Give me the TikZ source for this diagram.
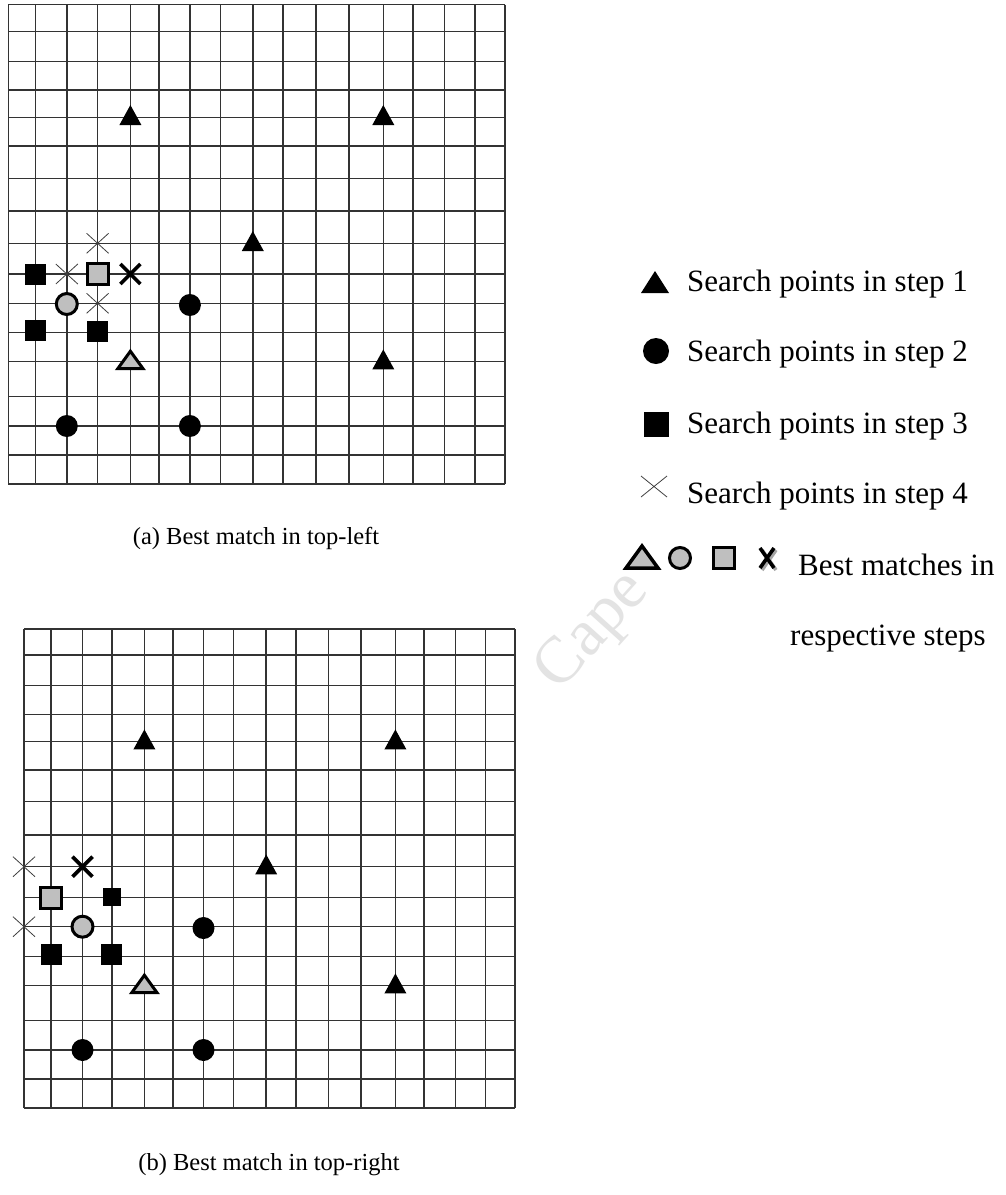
\documentclass[tikz,border=0pt]{standalone}
\usepackage{fontspec}
\setmainfont{Liberation Serif}
\begin{document}
\begin{tikzpicture}[x=1pt,y=-1pt,
  gl/.style={line width=1.5pt, black!80},
  best/.style={fill=black!25, draw=black, line width=3pt, line join=miter},
  thinx/.style={line width=0.8pt, black!75},
  boldx/.style={line width=3.6pt, black},
  legtext/.style={anchor=base west, inner sep=0pt, font=\fontsize{31}{36}\selectfont},
  captext/.style={anchor=center, inner sep=0pt, font=\fontsize{24.5}{28}\selectfont},
  wmark/.style={text=black!11, font=\fontsize{66}{70}\selectfont, inner sep=0pt}
]
\newcommand\symTri[2]{\fill[shift={(#1,#2)}] (-11,7.7) -- (11,7.7) -- (0,-12.3) -- cycle;}
\newcommand\symCirc[2]{\fill (#1,#2) circle[radius=11pt];}
\newcommand\symSq[2]{\fill[shift={(#1,#2)}] (-10.5,-10.5) rectangle (10.5,10.5);}
\newcommand\symX[2]{\draw[thinx,shift={(#1,#2)}] (-11,-10) -- (11,10) (-11,10) -- (11,-10);}
\newcommand\bestTri[2]{\filldraw[best,shift={(#1,#2)}] (-12.5,6.8) -- (12.5,6.8) -- (0,-10.5) -- cycle;}
\newcommand\bestCirc[2]{\filldraw[best] (#1,#2) circle[radius=10.5pt];}
\newcommand\bestSq[2]{\filldraw[best,shift={(#1,#2)}] (-10.5,-10.5) rectangle (10.5,10.5);}
\newcommand\bestX[2]{\draw[boldx,shift={(#1,#2)}] (-10,-10) -- (10,10) (-10,10) -- (10,-10);}
% canvas
\fill[white] (0,0) rectangle (1006,1195);
\useasboundingbox (0,0) rectangle (1006,1195);
% watermark
\node[wmark, rotate=48] (wm) at (594,632) {Cape};
% grid (a)
\fill[white] (8.3,4.7) rectangle (505,484);
\foreach \x in {8.3,35.4,66.8,97.6,130.4,158.8,189.9,220.7,252.8,283.2,316.1,348.8,383.3,413.1,444.5,474.9,505}
  \draw[gl] (\x,4.7) -- (\x,484);
\foreach \y in {4.7,31.7,61.7,90,117.3,146,178.3,211,243.3,274,303.3,332.3,361.7,396.7,426,455,484}
  \draw[gl] (8.3,\y) -- (505,\y);
% grid (b)
\fill[white] (24,629) rectangle (515,1108);
\foreach \x in {24,51.1,82.5,111.9,144.4,172.8,203.5,233.7,266.2,295.9,328.4,360.9,395.4,424.1,455.6,485.7,515}
  \draw[gl] (\x,629) -- (\x,1108);
\foreach \y in {629,655,685.7,714.3,741.7,770,801.7,835,866.7,897.3,926.7,956.7,985.7,1020.7,1050,1079,1108}
  \draw[gl] (24,\y) -- (515,\y);
% symbols (a)
\symTri{130.4}{117.3}\symTri{383.3}{117.3}\symTri{252.8}{243.3}\symTri{383.3}{361.7}
\bestTri{130.4}{361.7}
\symCirc{189.9}{305}\symCirc{66.8}{426}\symCirc{189.9}{426}
\bestCirc{66.8}{304}
\symSq{35.4}{274}\symSq{35.4}{330.3}\symSq{97.6}{331.3}
\bestSq{97.6}{274}
\symX{97.6}{243.3}\symX{66.8}{274}\symX{97.6}{303.3}
\bestX{130.4}{274}
% symbols (b)
\symTri{144.4}{741.7}\symTri{395.4}{741.7}\symTri{266.2}{866.7}\symTri{395.4}{985.7}
\bestTri{144.4}{985.7}
\symCirc{203.5}{928}\symCirc{82.5}{1050}\symCirc{203.5}{1050}
\bestCirc{82.5}{926.7}
\fill (103,888.3) rectangle (120.8,906.3);
\symSq{51.1}{954.7}\symSq{111.9}{954.7}
\bestSq{51.1}{898.3}
\symX{24}{866.7}\symX{24}{926.7}
\bestX{82.5}{866.7}
% legend
\fill (641,293) -- (669,293) -- (655,271) -- cycle;
\node[legtext] (l1) at (687,291) {Search points in step 1};
\fill (656,351) circle[radius=13pt];
\node[legtext] (l2) at (687,361) {Search points in step 2};
\fill (643.5,411.5) rectangle (668.5,436.5);
\node[legtext] (l3) at (687,433) {Search points in step 3};
\draw[thinx] (641,476) -- (667,497) (641,497) -- (667,476);
\node[legtext] (l4) at (687,503) {Search points in step 4};
\filldraw[best, line width=3.5pt] (626,568) -- (658,568) -- (642,546) -- cycle;
\filldraw[best] (680,558) circle[radius=10.5pt];
\filldraw[best] (713.5,547.5) rectangle (734.5,568.5);
\draw[boldx, black!35, shift={(769,560)}] (-7,-10) -- (7,10) (-7,10) -- (7,-10);
\draw[boldx, shift={(767,558)}] (-7,-10) -- (7,10) (-7,10) -- (7,-10);
\node[legtext] (l5) at (798,575) {Best matches in};
\node[legtext] (l6) at (790,645) {respective steps};
% captions
\node[captext] (capa) at (256,538) {(a) Best match in top-left};
\node[captext] (capb) at (269,1165) {(b) Best match in top-right};
\end{tikzpicture}
\end{document}
